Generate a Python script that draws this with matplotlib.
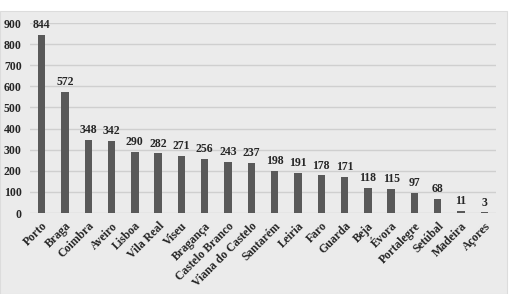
import matplotlib.pyplot as plt
from matplotlib.patches import Rectangle

distritos = ['Porto', 'Braga', 'Coimbra', 'Aveiro', 'Lisboa', 'Vila Real', 'Viseu',
             'Bragança', 'Castelo Branco', 'Viana do Castelo', 'Santarém', 'Leiria',
             'Faro', 'Guarda', 'Beja', 'Évora', 'Portalegre', 'Setúbal', 'Madeira', 'Açores']
valores = [844, 572, 348, 342, 290, 282, 271, 256, 243, 237, 198, 191,
           178, 171, 118, 115, 97, 68, 11, 3]

plt.rcParams['font.family'] = ['Liberation Serif', 'DejaVu Serif']

fig = plt.figure(figsize=(5.09, 2.94), dpi=100)
# painel cinzento por trás do gráfico
fig.patches.append(Rectangle((0, 0), 507 / 509, 1 - 11 / 294, transform=fig.transFigure,
                             facecolor='#ebebeb', edgecolor='#dcdcdc', lw=0.8, zorder=-5))

ax = fig.add_axes([30 / 509, 1 - 213 / 294, 466 / 509, 190 / 294])
ax.set_facecolor('none')

x = range(len(distritos))
ax.bar(x, valores, width=0.32, color='#595959', zorder=3)

for i, v in zip(x, valores):
    ax.text(i, v + 18, str(v), ha='center', va='bottom', fontsize=8.5,
            fontweight='bold', color='#262626')

ax.set_xlim(-0.5, len(distritos) - 0.5)
ax.set_ylim(0, 900)
ax.set_yticks(range(0, 901, 100))
ax.yaxis.grid(True, color='#cfcfcf', linewidth=1, zorder=0)
ax.set_axisbelow(True)

ax.set_xticks(list(x))
ax.set_xticklabels(distritos, rotation=45, ha='right', rotation_mode='anchor',
                   fontsize=8.5, fontweight='bold', color='#262626')
for lab in ax.get_yticklabels():
    lab.set_fontsize(8.5)
    lab.set_fontweight('bold')
    lab.set_color('#262626')

ax.tick_params(length=0, pad=5)
ax.tick_params(axis='y', pad=6)
for s in ax.spines.values():
    s.set_visible(False)

fig.savefig('out.png', dpi=100)
